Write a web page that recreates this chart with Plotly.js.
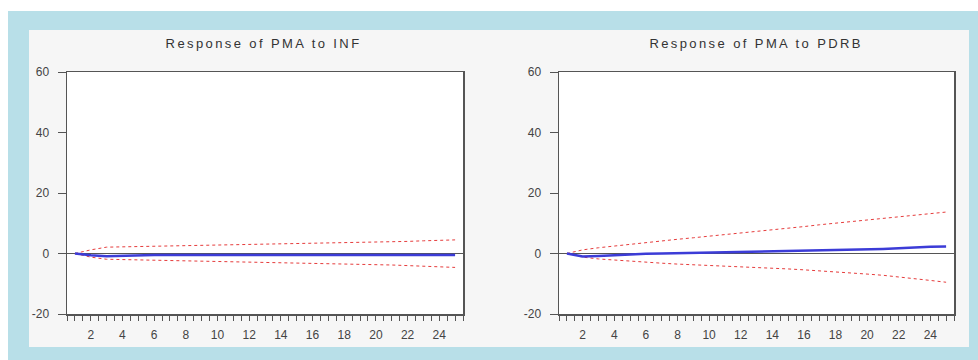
<!DOCTYPE html>
<html>
<head>
<meta charset="utf-8">
<script src="https://cdn.plot.ly/plotly-3.0.1.min.js"></script>
<style>html,body{margin:0;padding:0;background:#fff;}#chart{width:978px;height:360px;}
#chart .annotation-text{letter-spacing:2.4px;}</style>
</head>
<body>
<div id="chart"></div>
<script>
const periods = [1,2,3,4,5,6,7,8,9,10,11,12,13,14,15,16,17,18,19,20,21,22,23,24,25];
const titles = ["Response of PMA to INF", "Response of PMA to PDRB"];

const infResponse = [0,-0.6,-0.9,-0.7,-0.6,-0.5,-0.5,-0.5,-0.5,-0.5,-0.5,-0.5,-0.5,-0.5,-0.5,-0.5,-0.5,-0.5,-0.5,-0.5,-0.5,-0.5,-0.5,-0.5,-0.5];
const infUpper = [0,1.2,2.1,2.2,2.2,2.3,2.3,2.4,2.5,2.6,2.7,2.8,2.9,3.0,3.1,3.2,3.3,3.4,3.6,3.8,3.9,4.0,4.2,4.4,4.5];
const infLower = [0,-1.2,-1.9,-2.0,-2.1,-2.1,-2.2,-2.3,-2.4,-2.5,-2.6,-2.7,-2.8,-2.9,-3.0,-3.2,-3.3,-3.4,-3.5,-3.7,-3.8,-4.0,-4.2,-4.4,-4.6];

const pdrbResponse = [0,-1.0,-0.8,-0.5,-0.3,-0.1,0,0.1,0.15,0.2,0.3,0.4,0.5,0.6,0.7,0.8,0.9,1.0,1.2,1.3,1.5,1.7,2.0,2.2,2.3];
const pdrbUpper = [0,1.2,1.9,2.5,3.0,3.6,4.2,4.7,5.2,5.7,6.3,6.8,7.3,7.8,8.4,8.9,9.5,10.0,10.6,11.2,11.7,12.2,12.7,13.2,13.7];
const pdrbLower = [0,-1.2,-1.8,-2.2,-2.5,-2.9,-3.2,-3.5,-3.7,-4.0,-4.2,-4.4,-4.6,-4.8,-5.1,-5.4,-5.7,-6.0,-6.4,-6.8,-7.2,-7.7,-8.3,-8.9,-9.5];

const xTickVals = [2,4,6,8,10,12,14,16,18,20,22,24];
const yTickVals = [-20,0,20,40,60];
const yTickText = ["-20","0","20","40","60"];

const W = 978, H = 360;
const blue = 'rgb(60,60,215)';
const red = 'rgb(230,60,60)';
const FONT = 'Liberation Sans, Arial, sans-serif';

function band(x, y, axis) {
  return {x: x, y: y, xaxis: 'x'+axis, yaxis: 'y'+axis, type: 'scatter', mode: 'lines',
    line: {color: red, width: 1, dash: 'dot'}, hoverinfo: 'skip', showlegend: false};
}
function resp(x, y, axis) {
  return {x: x, y: y, xaxis: 'x'+axis, yaxis: 'y'+axis, type: 'scatter', mode: 'lines',
    line: {color: blue, width: 2.5}, showlegend: false};
}

const data = [
  band(periods, infUpper, ''), band(periods, infLower, ''), resp(periods, infResponse, ''),
  band(periods, pdrbUpper, '2'), band(periods, pdrbLower, '2'), resp(periods, pdrbResponse, '2')
];

function xax(domain, anchor) {
  return {domain: domain, anchor: anchor, range: [0.5, 25.5], tickmode: 'array', tickvals: xTickVals,
    ticks: 'outside', ticklen: 5, tickwidth: 1, tickcolor: '#555', ticklabelstandoff: 4,
    minor: {dtick: 0.5, tick0: 0.5, ticks: 'outside', ticklen: 5, tickcolor: '#555', tickwidth: 1, showgrid: false},
    showgrid: false, zeroline: false, showline: true, linecolor: '#555', linewidth: 1.5, mirror: true,
    tickfont: {family: FONT, size: 12, color: '#444'}, fixedrange: true};
}
function yax(domain, anchor) {
  return {domain: domain, anchor: anchor, range: [-20, 60], tickmode: 'array', tickvals: yTickVals, ticktext: yTickText,
    ticks: 'outside', ticklen: 8, tickwidth: 1, tickcolor: '#555', ticklabelstandoff: 6,
    showgrid: false, zeroline: true, zerolinecolor: '#555', zerolinewidth: 1.5,
    showline: true, linecolor: '#555', linewidth: 1.5, mirror: true,
    tickfont: {family: FONT, size: 12, color: '#444'}, fixedrange: true};
}

const yDom = [(H-314)/H, (H-72)/H];
const layout = {
  width: W, height: H,
  margin: {l: 0, r: 0, t: 0, b: 0},
  paper_bgcolor: '#ffffff', plot_bgcolor: '#ffffff',
  showlegend: false,
  xaxis: xax([67/W, 463/W], 'y'),
  yaxis: yax(yDom, 'x'),
  xaxis2: xax([559/W, 954/W], 'y2'),
  yaxis2: yax(yDom, 'x2'),
  shapes: [
    {type: 'rect', xref: 'paper', yref: 'paper', x0: 8/W, x1: 1, y0: 0, y1: (H-11)/H,
     fillcolor: 'rgb(184,223,232)', line: {width: 0}, layer: 'below'},
    {type: 'rect', xref: 'paper', yref: 'paper', x0: 29/W, x1: 969/W, y0: (H-347)/H, y1: (H-30)/H,
     fillcolor: 'rgb(246,246,246)', line: {width: 0}, layer: 'below'},
    {type: 'rect', xref: 'x domain', yref: 'y domain', x0: 0, x1: 1, y0: 0, y1: 1,
     fillcolor: '#ffffff', line: {width: 0}, layer: 'below'},
    {type: 'rect', xref: 'x2 domain', yref: 'y2 domain', x0: 0, x1: 1, y0: 0, y1: 1,
     fillcolor: '#ffffff', line: {width: 0}, layer: 'below'}
  ],
  annotations: [
    {text: titles[0], xref: 'paper', yref: 'paper', x: 263/W, y: (H-43)/H, showarrow: false,
     xanchor: 'center', yanchor: 'middle', font: {family: FONT, size: 13, color: '#333'}},
    {text: titles[1], xref: 'paper', yref: 'paper', x: 756/W, y: (H-43)/H, showarrow: false,
     xanchor: 'center', yanchor: 'middle', font: {family: FONT, size: 13, color: '#333'}}
  ]
};

Plotly.newPlot('chart', data, layout, {displayModeBar: false, staticPlot: true});
</script>
</body>
</html>
